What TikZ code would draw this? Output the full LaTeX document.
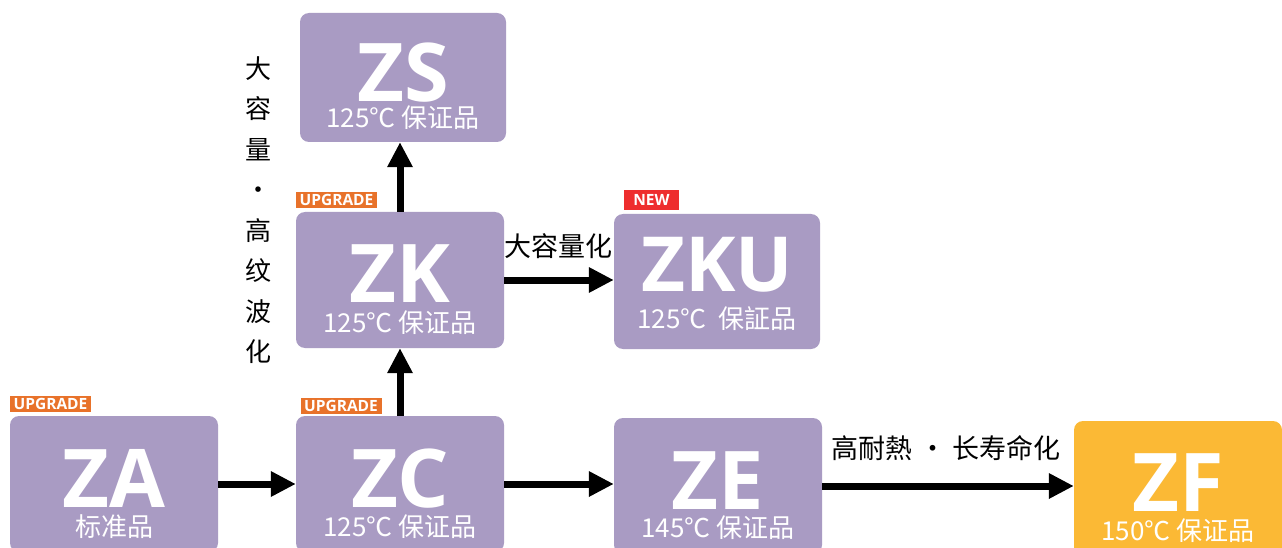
\documentclass[tikz,border=0pt]{standalone}
\usepackage{fontspec}
\setmainfont{Open Sans}
\newfontfamily\cjk{Noto Sans CJK SC}
\usetikzlibrary{arrows.meta}
\definecolor{boxpurple}{RGB}{169,155,195}
\definecolor{boxorange}{RGB}{251,185,53}
\definecolor{tagorange}{RGB}{232,114,42}
\definecolor{tagred}{RGB}{238,45,46}

\begin{document}
\begin{tikzpicture}[x=1pt, y=-1pt,
    prod/.style={rectangle, rounded corners=9pt, fill=boxpurple, inner sep=0pt, minimum width=208pt, minimum height=136pt},
    ttl/.style={text=white, font=\fontsize{81}{81}\selectfont\bfseries, inner sep=0pt, text depth=0pt, anchor=base},
    sub/.style={text=white, font=\fontsize{26}{26}\selectfont\cjk, inner sep=0pt, anchor=base},
    tag/.style={fill=tagorange, text=white, font=\fontsize{15.5}{15.5}\selectfont\bfseries, inner sep=0pt, minimum width=81pt, minimum height=16pt},
    lbl/.style={font=\fontsize{27}{27}\selectfont\cjk, inner sep=0pt},
    flow/.style={line width=7pt, -{Triangle[length=25pt,width=24pt]}}]
        \useasboundingbox (0,0) rectangle (1282,548);
        \clip (0,0) rectangle (1282,548);
        % boxes
        \node[prod, minimum width=206pt, minimum height=129pt] (zs) at (403,77.5) {};
        \node[prod] (zk) at (400,280) {};
        \node[prod, minimum width=206pt, minimum height=135pt] (zku) at (717,281.5) {};
        \node[prod] (za) at (114,484) {};
        \node[prod] (zc) at (400,484) {};
        \node[prod] (ze) at (718,486) {};
        \node[prod, fill=boxorange] (zf) at (1178,489) {};
        % names
        \node[ttl] (zs-t) at ([yshift=-89pt]zs.north) {ZS};
        \node[sub] (zs-s) at ([yshift=-115pt]zs.north) {125℃ 保证品};
        \node[ttl] (zk-t) at ([yshift=-91pt]zk.north) {ZK};
        \node[sub] (zk-s) at ([yshift=-121pt]zk.north) {125℃ 保证品};
        \node[ttl, font=\fontsize{76}{76}\selectfont\bfseries] (zku-t) at ([yshift=-78pt]zku.north) {ZKU};
        \node[sub] (zku-s) at ([yshift=-115pt]zku.north) {125℃\ \ 保証品};
        \node[ttl] (za-t) at ([yshift=-92pt]za.north) {ZA};
        \node[sub] (za-s) at ([yshift=-121pt]za.north) {标准品};
        \node[ttl] (zc-t) at ([yshift=-92pt]zc.north) {ZC};
        \node[sub] (zc-s) at ([yshift=-121pt]zc.north) {125℃ 保证品};
        \node[ttl] (ze-t) at ([yshift=-92pt]ze.north) {ZE};
        \node[sub] (ze-s) at ([yshift=-120pt]ze.north) {145℃ 保证品};
        \node[ttl] (zf-t) at ([yshift=-91pt]zf.north) {ZF};
        \node[sub] (zf-s) at ([yshift=-120pt]zf.north) {150℃ 保证品};
        % tags
        \node[tag] (za-tag) at (50.5,404) {UPGRADE};
        \node[tag] (zc-tag) at (341,406) {UPGRADE};
        \node[tag] (zk-tag) at (336.5,200) {UPGRADE};
        \node[tag, fill=tagred, minimum width=55pt, minimum height=20pt] (zku-tag) at (651.5,200) {NEW};
        % arrows
        \draw[flow] (za.east) -- (zc.west);
        \draw[flow] (zc.east) -- (zc.east -| ze.west);
        \draw[flow] (ze.east) -- (ze.east -| zf.west);
        \draw[flow] (zc.north) -- (zk.south);
        \draw[flow] (zk.north) -- (zk.north |- zs.south);
        \draw[flow] (zk.east) -- (zk.east -| zku.west);
        % labels
        \node[lbl] (cap-l) at (558,246) {大容量化};
        \node[lbl] (heat-l) at (946,448) {高耐熱 ・ 长寿命化};
        \node[lbl, font=\fontsize{26}{40.5}\selectfont\cjk, align=center] (ripple-l) at (258,210) {大\\容\\量\\・\\高\\纹\\波\\化};
\end{tikzpicture}
\end{document}
